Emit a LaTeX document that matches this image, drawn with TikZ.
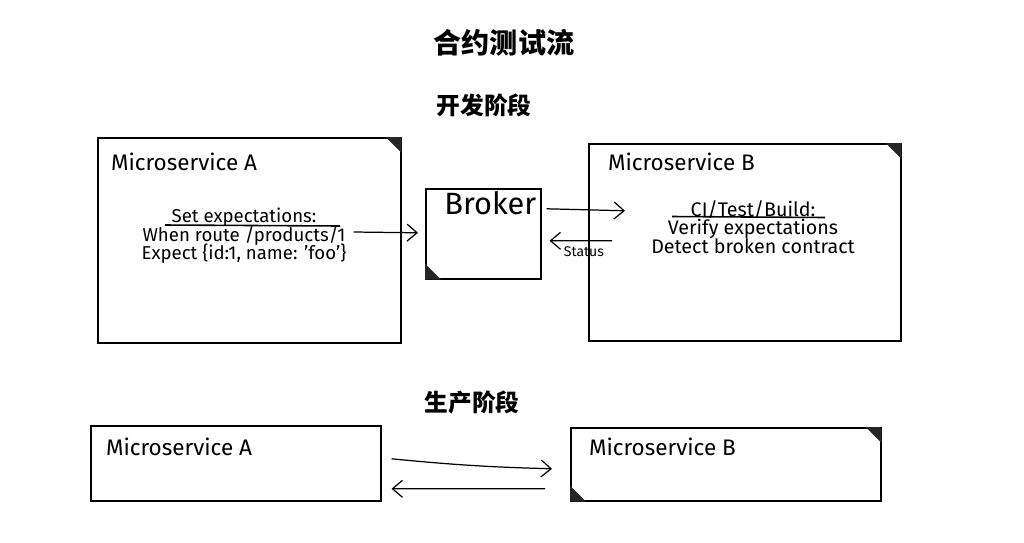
\documentclass[tikz,border=0pt]{standalone}
\usepackage{fontspec}
\setsansfont{Fira Sans}
\newfontfamily\cjk{Noto Sans CJK SC}
\usepackage{tikz}
\usetikzlibrary{arrows.meta, positioning, calc}
\setlength{\lineskiplimit}{-10pt}

\begin{document}
\begin{tikzpicture}[
  x=0.02cm, y=-0.02cm, font=\sffamily,
  heading/.style={inner sep=1pt, font=\cjk\bfseries\fontsize{13.5}{16}\selectfont},
  box/.style={draw=black, line width=0.9pt, anchor=north west, inner sep=0pt},
  lbl/.style={anchor=west, inner sep=1pt, font=\sffamily\fontsize{12.8}{14}\selectfont},
  note/.style={align=center, inner sep=1pt, font=\sffamily\fontsize{10.6}{10.6}\selectfont},
  ear/.style={fill=black!85},
  arr/.style={-{Straight Barb[length=2mm, width=3.4mm]}, line width=0.7pt},
  uline/.style={line width=0.9pt},
]
\useasboundingbox[fill=white] (0,0) rectangle (1024,542);

% headings
\node[heading, font=\cjk\bfseries\fontsize{16}{19}\selectfont] (title) at (504,43) {合约测试流};
\node[heading] (devhd) at (484,105) {开发阶段};
\node[heading] (prodhd) at (472,402) {生产阶段};

% development stage
\node[box, minimum width=6.06cm, minimum height=4.10cm] (devA) at (97,137) {};
\node[box, minimum width=2.30cm, minimum height=1.80cm] (brk) at (425,188) {};
\node[box, minimum width=6.24cm, minimum height=3.94cm] (devB) at (588,143) {};

\fill[ear] (devA.north east) -- ++(-16,0) -- ++(16,16) -- cycle;
\fill[ear] (brk.south west) -- ++(0,-16) -- ++(16,16) -- cycle;
\fill[ear] (devB.north east) -- ++(-16,0) -- ++(16,16) -- cycle;

\node[lbl] (devAlbl) at ([shift={(12,25)}]devA.north west) {Microservice A};
\node[lbl] (devBlbl) at ([shift={(18,19)}]devB.north west) {Microservice B};
\node[inner sep=1pt, font=\sffamily\fontsize{17.5}{19}\selectfont, below=1pt of brk.north, xshift=4pt] (brktxt) {Broker};

\node[note] (specA) at (244,236) {Set expectations:\\When route /products/1\\Expect \{id:1, name: 'foo'\}};
\draw[uline] ([shift={(-79,-11)}]specA.center) -- ([shift={(96,-10)}]specA.center);
\node[note, font=\sffamily\fontsize{11.2}{10.6}\selectfont] (specB) at (753,227) {CI/Test/Build:\\Verify expectations\\Detect broken contract};
\draw[uline] ([shift={(-81,-10.5)}]specB.center) -- ([shift={(72,-9.5)}]specB.center);

\draw[arr] ([shift={(5,-4)}]specA.east) -- ([shift={(-7,-1)}]brk.west);
\draw[arr] ([shift={(5,-25)}]brk.east) -- ([shift={(37,-31.5)}]devB.west);
\draw[arr] ([shift={(24,-1.5)}]devB.west) -- node[pos=0.45, below=2pt, inner sep=1pt, font=\sffamily\fontsize{8}{9}\selectfont] {Status} ([shift={(8,7)}]brk.east);

% production stage
\node[box, minimum width=5.8cm, minimum height=1.5cm] (prodA) at (90,425) {};
\node[box, minimum width=6.2cm, minimum height=1.46cm] (prodB) at (570,427) {};

\fill[ear] (prodB.north east) -- ++(-16,0) -- ++(16,16) -- cycle;
\fill[ear] (prodB.south west) -- ++(0,-16) -- ++(16,16) -- cycle;

\node[lbl] (prodAlbl) at ([shift={(14,22)}]prodA.north west) {Microservice A};
\node[lbl] (prodBlbl) at ([shift={(17,20)}]prodB.north west) {Microservice B};

\draw[arr] ([shift={(10,-4.5)}]prodA.east) to[bend right=2] ([shift={(-18,4.5)}]prodB.west);
\draw[arr] ([shift={(-25,24.5)}]prodB.west) -- ([shift={(10,25.5)}]prodA.east);
\end{tikzpicture}
\end{document}
